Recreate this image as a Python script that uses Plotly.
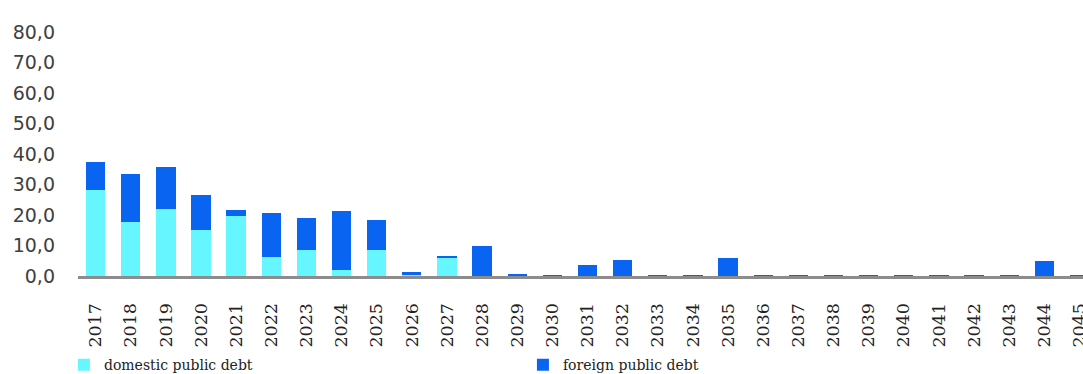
import plotly.graph_objects as go

years = [str(y) for y in range(2017, 2046)]
domestic = [28.1, 17.6, 21.9, 15.0, 19.6, 6.3, 8.5, 2.0, 8.5,
            0.4, 6.1, 0.0, 0.3, 0.1, 0.0, 0.0, 0.1, 0.1, 0.0,
            0.1, 0.1, 0.1, 0.1, 0.1, 0.1, 0.1, 0.1, 0.0, 0.1]
foreign = [9.2, 16.0, 13.8, 11.4, 2.0, 14.2, 10.6, 19.3, 9.8,
           1.0, 0.4, 10.0, 0.5, 0.2, 3.7, 5.2, 0.2, 0.2, 5.9,
           0.2, 0.2, 0.2, 0.2, 0.2, 0.2, 0.2, 0.2, 4.8, 0.2]

fig = go.Figure()
fig.add_trace(go.Bar(x=years, y=domestic, name="domestic public debt",
                     marker=dict(color="#66F6FF", line=dict(width=0))))
fig.add_trace(go.Bar(x=years, y=foreign, name="foreign public debt",
                     marker=dict(color="#0A64F2", line=dict(width=0))))

fig.update_layout(
    barmode="stack",
    bargap=0.45,
    width=1083, height=374,
    margin=dict(l=78, r=0, t=32, b=98, autoexpand=False),
    paper_bgcolor="white", plot_bgcolor="white",
    separators=", ",
    showlegend=True,
    legend=dict(orientation="h", x=-0.014, y=-0.30, xanchor="left", yanchor="top",
                entrywidth=414, entrywidthmode="pixels",
                font=dict(family="DejaVu Serif", size=14, color="#222222"),
                itemwidth=30, traceorder="normal"),
    xaxis=dict(type="category", range=[-0.5, 28.1], tickangle=-90,
               tickfont=dict(family="DejaVu Serif", size=17.5, color="#222222"),
               showline=True, linecolor="#8C8C8C", linewidth=3,
               ticks="", showgrid=False, ticklabelstandoff=17, automargin=False),
    yaxis=dict(range=[0, 80], dtick=10, tickformat=".1f",
               tickfont=dict(family="DejaVu Sans", size=19, color="#404040"),
               showline=False, showgrid=False, zeroline=False, ticks="",
               ticklabelstandoff=22, automargin=False),
)

fig.write_html("out.html")
